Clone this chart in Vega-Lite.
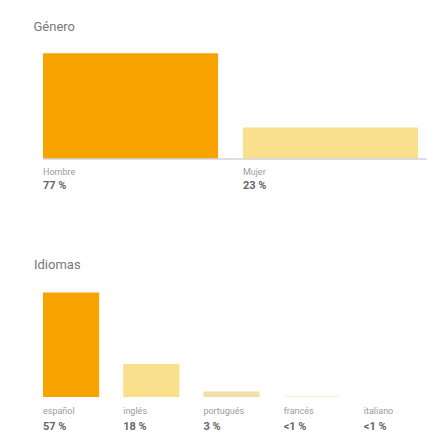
{
  "$schema": "https://vega.github.io/schema/vega-lite/v6.json",
  "padding": {"left": 33, "top": 21, "right": 0, "bottom": 0},
  "background": "white",
  "config": {"view": {"stroke": null}, "font": "Roboto", "concat": {"spacing": 68}},
  "resolve": {"scale": {"color": "independent", "x": "independent", "y": "independent"}},
  "datasets": {
    "genero": [
      {"categoria": "Hombre", "valor": 77, "texto": "77 %"},
      {"categoria": "Mujer", "valor": 23, "texto": "23 %"}
    ],
    "idiomas": [
      {"categoria": "español", "valor": 57, "texto": "57 %"},
      {"categoria": "inglés", "valor": 18, "texto": "18 %"},
      {"categoria": "portugués", "valor": 3, "texto": "3 %"},
      {"categoria": "francés", "valor": 0.5, "texto": "<1 %"},
      {"categoria": "italiano", "valor": 0.2, "texto": "<1 %"}
    ]
  },
  "vconcat": [
    {
      "title": {"text": "Género", "anchor": "start", "fontSize": 13, "fontWeight": "normal", "color": "#777777", "dx": -9, "offset": 15},
      "data": {"name": "genero"},
      "width": 385,
      "height": 110,
      "encoding": {
        "x": {"field": "categoria", "type": "nominal", "sort": null, "axis": null,
              "scale": {"paddingInner": 0.124, "paddingOuter": 0.025, "align": 0}}
      },
      "layer": [
        {
          "mark": {"type": "bar"},
          "encoding": {
            "y": {"field": "valor", "type": "quantitative", "axis": null, "scale": {"domain": [0, 77]}},
            "color": {"field": "categoria", "type": "nominal", "legend": null,
                      "scale": {"domain": ["Hombre", "Mujer"], "range": ["#F9A300", "#FADF8C"]}}
          }
        },
        {
          "mark": {"type": "rule", "color": "#d0d4dc", "strokeWidth": 1},
          "encoding": {"y": {"datum": 0}, "x": null}
        },
        {
          "mark": {"type": "text", "align": "left", "baseline": "middle", "dy": 13, "fontSize": 9, "color": "#9a9a9a"},
          "encoding": {"y": {"datum": 0}, "x": {"field": "categoria", "type": "nominal", "sort": null, "bandPosition": 0}, "text": {"field": "categoria"}}
        },
        {
          "mark": {"type": "text", "align": "left", "baseline": "middle", "dy": 27, "fontSize": 11, "fontWeight": "bold", "color": "#666666"},
          "encoding": {"y": {"datum": 0}, "x": {"field": "categoria", "type": "nominal", "sort": null, "bandPosition": 0}, "text": {"field": "texto"}}
        }
      ]
    },
    {
      "title": {"text": "Idiomas", "anchor": "start", "fontSize": 13, "fontWeight": "normal", "color": "#777777", "dx": -9, "offset": 15},
      "data": {"name": "idiomas"},
      "width": 385,
      "height": 110,
      "encoding": {
        "x": {"field": "categoria", "type": "nominal", "sort": null, "axis": null,
              "scale": {"paddingInner": 0.3, "paddingOuter": 0.05, "align": 0}}
      },
      "layer": [
        {
          "mark": {"type": "bar"},
          "encoding": {
            "y": {"field": "valor", "type": "quantitative", "axis": null, "scale": {"domain": [0, 57]}},
            "color": {"field": "categoria", "type": "nominal", "legend": null,
                      "scale": {"domain": ["español", "inglés", "portugués", "francés", "italiano"], "range": ["#F9A300", "#FADF8C", "#F5DFA8", "#F8F0DC", "#FDF8EE"]}}
          }
        },
        {
          "mark": {"type": "text", "align": "left", "baseline": "middle", "dy": 14, "fontSize": 9, "color": "#9a9a9a"},
          "encoding": {"y": {"datum": 0}, "x": {"field": "categoria", "type": "nominal", "sort": null, "bandPosition": 0}, "text": {"field": "categoria"}}
        },
        {
          "mark": {"type": "text", "align": "left", "baseline": "middle", "dy": 30, "fontSize": 11, "fontWeight": "bold", "color": "#666666"},
          "encoding": {"y": {"datum": 0}, "x": {"field": "categoria", "type": "nominal", "sort": null, "bandPosition": 0}, "text": {"field": "texto"}}
        }
      ]
    }
  ]
}
